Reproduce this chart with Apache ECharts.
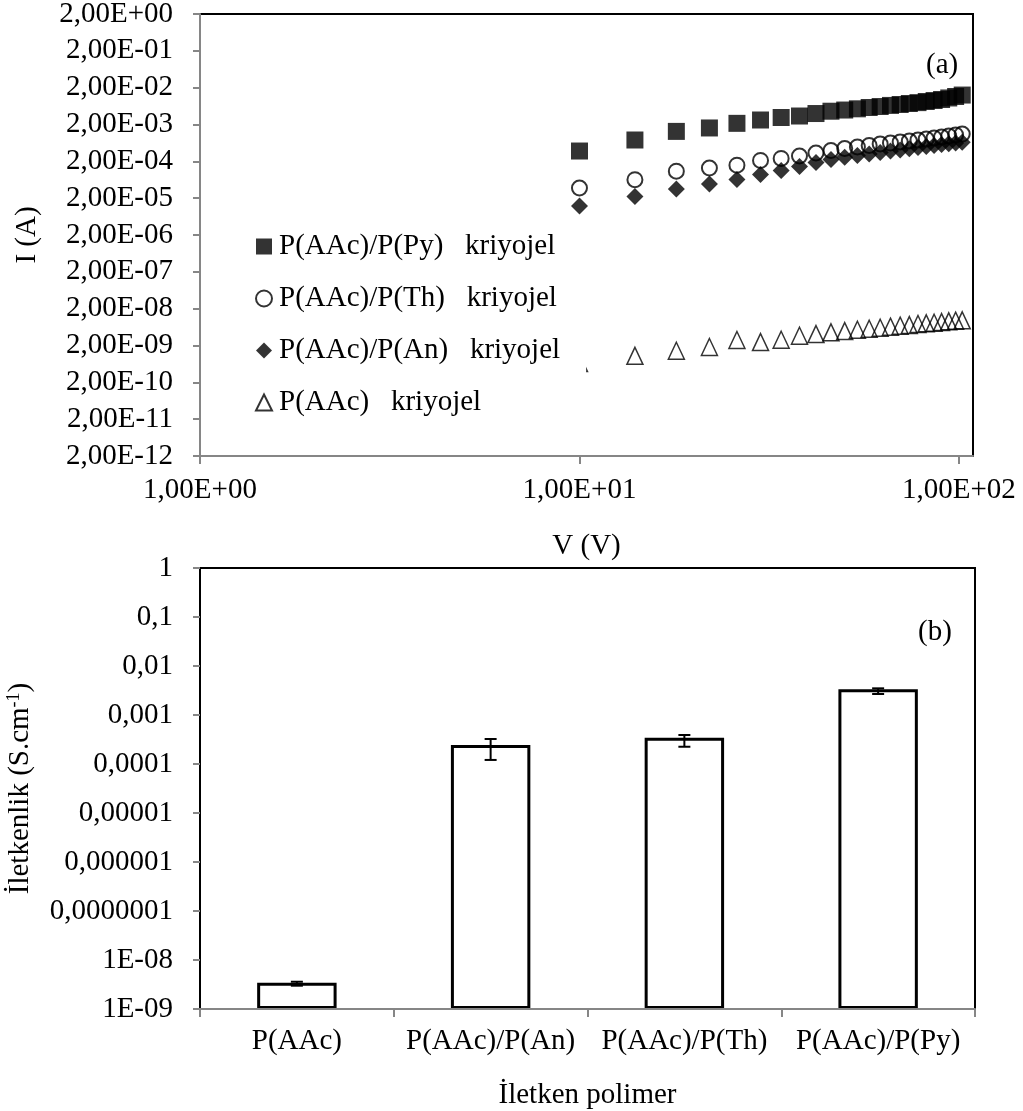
<!DOCTYPE html>
<html>
<head>
<meta charset="utf-8">
<title>I–V ve iletkenlik</title>
<script src="https://cdn.jsdelivr.net/npm/echarts@6/dist/echarts.min.js"></script>
<style>
  html, body { margin: 0; padding: 0; background: #fff; }
  #chart { width: 1023px; height: 1111px; }
</style>
</head>
<body>
<div id="chart"></div>
<script>
// (a) Akım–gerilim ölçümleri, V (V)
const voltages = [10, 14, 18, 22, 26, 30, 34, 38, 42, 46, 50, 54, 58, 62, 66, 70, 74, 78, 82, 86, 90, 94, 98, 102];

// I (A) for each cryogel
const currentPPy = [3.81e-4, 7.59e-4, 1.30e-3, 1.61e-3, 2.15e-3, 2.65e-3, 3.10e-3, 3.40e-3, 3.97e-3, 4.59e-3, 4.94e-3, 5.33e-3,
                    5.78e-3, 6.15e-3, 6.59e-3, 6.98e-3, 7.43e-3, 7.85e-3, 8.41e-3, 8.95e-3, 9.55e-3, 1.05e-2, 1.15e-2, 1.26e-2];
const currentPTh = [3.78e-5, 6.34e-5, 1.08e-4, 1.32e-4, 1.57e-4, 2.12e-4, 2.40e-4, 2.79e-4, 3.37e-4, 3.94e-4, 4.46e-4, 4.90e-4,
                    5.38e-4, 5.90e-4, 6.28e-4, 6.70e-4, 7.13e-4, 7.59e-4, 8.07e-4, 8.59e-4, 9.14e-4, 9.73e-4, 1.04e-3, 1.10e-3];
const currentPAn = [1.22e-5, 2.22e-5, 3.54e-5, 4.84e-5, 6.41e-5, 8.77e-5, 1.12e-4, 1.45e-4, 1.86e-4, 2.24e-4, 2.57e-4, 2.88e-4,
                    3.16e-4, 3.47e-4, 3.81e-4, 4.06e-4, 4.38e-4, 4.72e-4, 5.05e-4, 5.38e-4, 5.73e-4, 5.98e-4, 6.28e-4, 6.56e-4];
const currentPAAc = [6.68e-10, 1.05e-9, 1.44e-9, 1.82e-9, 2.82e-9, 2.48e-9, 2.87e-9, 3.68e-9, 4.09e-9, 4.56e-9, 4.94e-9, 5.36e-9,
                     5.70e-9, 6.07e-9, 6.47e-9, 6.89e-9, 7.19e-9, 7.66e-9, 8.00e-9, 8.30e-9, 8.67e-9, 9.06e-9, 9.42e-9, 9.64e-9];

const seriesNames = ['P(AAc)/P(Py)   kriyojel', 'P(AAc)/P(Th)   kriyojel', 'P(AAc)/P(An)   kriyojel', 'P(AAc)   kriyojel'];

// Axis ranges of panel (a)
const voltageRange = [1, 108.9];
const currentRange = [2e-12, 2];

// (b) Conductivity of each conducting polymer, S/cm
const polymers = ['P(AAc)', 'P(AAc)/P(An)', 'P(AAc)/P(Th)', 'P(AAc)/P(Py)'];
const conductivity = [3.44e-9, 2.44e-4, 3.44e-4, 3.34e-3];
const conductivityLow = [2.99e-9, 1.21e-4, 2.25e-4, 2.68e-3];
const conductivityHigh = [3.6e-9, 3.24e-4, 3.91e-4, 3.50e-3];
const conductivityRange = [1e-9, 1];

const SERIF = '"Liberation Serif", "Times New Roman", serif';
const FS = 29;
const AXIS_GREY = '#868686';

function pair(xs, ys) { return xs.map((x, i) => [x, ys[i]]); }

function voltLabel(v) {
  const e = Math.round(Math.log10(v));
  if (Math.abs(Math.log10(v) - e) > 1e-6) return '';
  return '1,00E' + (e < 0 ? '-' : '+') + String(Math.abs(e)).padStart(2, '0');
}
function currentLabel(lv) {
  const k = lv - Math.log10(2);
  const e = Math.round(k);
  if (Math.abs(k - e) > 0.01) return '';
  return '2,00E' + (e < 0 ? '-' : '+') + String(Math.abs(e)).padStart(2, '0');
}
function condLabel(v) {
  const e = Math.round(Math.log10(v));
  if (e === 0) return '1';
  if (e >= -7) return '0,' + '0'.repeat(-e - 1) + '1';
  return '1E-' + String(-e).padStart(2, '0');
}

const textBase = { fontFamily: SERIF, fontSize: FS, color: '#000' };
const greyLine = { onZero: false, lineStyle: { color: AXIS_GREY, width: 2 } };

const option = {
  animation: false,
  backgroundColor: '#fff',
  textStyle: { fontFamily: SERIF },
  title: [
    { text: '(a)', left: 926, top: 51, padding: 0, textStyle: Object.assign({ fontWeight: 'normal' }, textBase) },
    { text: '(b)', left: 918, top: 618, padding: 0, textStyle: Object.assign({ fontWeight: 'normal' }, textBase) }
  ],
  grid: [
    { left: 200, right: 50, top: 14, height: 442, outerBoundsMode: 'none', containLabel: false,
      show: true, borderColor: '#000', borderWidth: 2, backgroundColor: 'transparent' },
    { left: 200, right: 48, top: 568, height: 441, outerBoundsMode: 'none', containLabel: false,
      show: true, borderColor: '#000', borderWidth: 2, backgroundColor: 'transparent' }
  ],
  legend: {
    orient: 'vertical',
    left: 245,
    top: 222,
    padding: [10, 26, 10, 10],
    backgroundColor: '#fff',
    itemWidth: 16,
    itemHeight: 16,
    itemGap: 23,
    textStyle: Object.assign({ lineHeight: 29, padding: [0, 0, 0, 2] }, textBase),
    data: seriesNames
  },
  xAxis: [
    {
      type: 'log', gridIndex: 0, logBase: 10,
      min: voltageRange[0], max: voltageRange[1],
      name: 'V (V)', nameLocation: 'middle', nameGap: 76,
      nameTextStyle: textBase,
      axisLine: greyLine,
      axisTick: { show: true, length: 8, lineStyle: { color: AXIS_GREY, width: 2 } },
      axisLabel: Object.assign({ margin: 20, formatter: voltLabel, showMaxLabel: false }, textBase),
      splitLine: { show: false },
      z: 3
    },
    {
      type: 'category', gridIndex: 1, data: polymers,
      name: 'İletken polimer', nameLocation: 'middle', nameGap: 72,
      nameTextStyle: textBase,
      axisLine: greyLine,
      axisTick: { show: true, length: 8, lineStyle: { color: AXIS_GREY, width: 2 } },
      axisLabel: Object.assign({ margin: 18, interval: 0 }, textBase),
      splitLine: { show: false },
      z: 3
    }
  ],
  yAxis: [
    {
      // data scale of panel (a)
      type: 'log', gridIndex: 0, logBase: 10, position: 'left', show: false,
      min: currentRange[0], max: currentRange[1],
      axisLine: { show: false, onZero: false }, axisTick: { show: false }, axisLabel: { show: false },
      splitLine: { show: false }
    },
    {
      // tick and label ruler of panel (a): decades starting at 2·10^k
      type: 'value', gridIndex: 0, position: 'left', offset: 0,
      min: Math.log10(currentRange[0]), max: Math.log10(currentRange[1]), interval: 1,
      name: 'I (A)', nameLocation: 'middle', nameGap: 158, nameRotate: 90,
      nameTextStyle: textBase,
      axisLine: greyLine,
      axisTick: { show: true, length: 7, lineStyle: { color: AXIS_GREY, width: 2 } },
      axisLabel: Object.assign({ margin: 27, formatter: currentLabel, showMaxLabel: false }, textBase),
      splitLine: { show: false },
      z: 3
    },
    {
      type: 'log', gridIndex: 1, logBase: 10,
      min: conductivityRange[0], max: conductivityRange[1],
      startValue: conductivityRange[0],
      splitNumber: 10,
      name: 'İletkenlik (S.cm{sup|-1})', nameLocation: 'middle', nameGap: 165, nameRotate: 90,
      nameTextStyle: Object.assign({
        rich: { sup: { fontFamily: SERIF, fontSize: 18, color: '#000', verticalAlign: 'top', lineHeight: 30 } }
      }, textBase),
      axisLine: greyLine,
      axisTick: { show: true, length: 7, lineStyle: { color: AXIS_GREY, width: 2 } },
      axisLabel: Object.assign({ margin: 27, formatter: condLabel }, textBase),
      splitLine: { show: false },
      z: 3
    }
  ],
  series: [
    {
      name: seriesNames[0], type: 'scatter', xAxisIndex: 0, yAxisIndex: 0,
      symbol: 'rect', symbolSize: 17,
      itemStyle: { color: '#000' },
      data: pair(voltages, currentPPy)
    },
    {
      name: seriesNames[1], type: 'scatter', xAxisIndex: 0, yAxisIndex: 0,
      symbol: 'circle', symbolSize: 15,
      itemStyle: { color: 'rgba(255,255,255,0)', borderColor: '#000', borderWidth: 2 },
      data: pair(voltages, currentPTh)
    },
    {
      name: seriesNames[2], type: 'scatter', xAxisIndex: 0, yAxisIndex: 0,
      symbol: 'diamond', symbolSize: 17,
      itemStyle: { color: '#000' },
      data: pair(voltages, currentPAn)
    },
    {
      name: seriesNames[3], type: 'scatter', xAxisIndex: 0, yAxisIndex: 0,
      symbol: 'triangle', symbolSize: [16, 17],
      itemStyle: { color: 'rgba(255,255,255,0)', borderColor: '#000', borderWidth: 1.5 },
      data: pair(voltages, currentPAAc)
    },
    {
      name: 'İletkenlik', type: 'bar', xAxisIndex: 1, yAxisIndex: 2,
      barWidth: '41%',
      itemStyle: { color: '#fff', borderColor: '#000', borderWidth: 3 },
      data: conductivity
    },
    {
      name: 'Hata', type: 'custom', xAxisIndex: 1, yAxisIndex: 2,
      encode: { x: 0, y: [1, 2] },
      data: polymers.map((p, i) => [i, conductivityLow[i], conductivityHigh[i]]),
      renderItem: function (params, api) {
        const lo = api.coord([api.value(0), api.value(1)]);
        const hi = api.coord([api.value(0), api.value(2)]);
        const half = 6;
        const style = { stroke: '#000', lineWidth: 2 };
        return {
          type: 'group',
          children: [
            { type: 'line', shape: { x1: lo[0], y1: lo[1], x2: hi[0], y2: hi[1] }, style: style },
            { type: 'line', shape: { x1: lo[0] - half, y1: lo[1], x2: lo[0] + half, y2: lo[1] }, style: style },
            { type: 'line', shape: { x1: hi[0] - half, y1: hi[1], x2: hi[0] + half, y2: hi[1] }, style: style }
          ]
        };
      },
      z: 3
    }
  ]
};

const chart = echarts.init(document.getElementById('chart'), null, { renderer: 'canvas' });
chart.setOption(option);
</script>
</body>
</html>
